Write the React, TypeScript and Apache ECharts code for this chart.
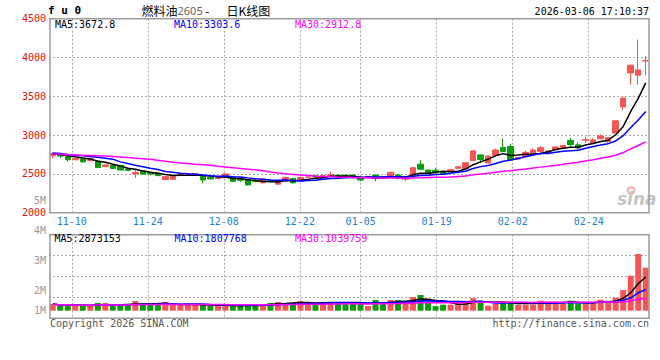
import React, { useEffect, useRef } from "react";
import * as echarts from "echarts";

// ---- data ----
const dates = [
  "11-05","11-06","11-07","11-10","11-11","11-12","11-13","11-14","11-17","11-18",
  "11-19","11-20","11-21","11-24","11-25","11-26","11-27","11-28","12-01","12-02",
  "12-03","12-04","12-05","12-08","12-09","12-10","12-11","12-12","12-15","12-16",
  "12-17","12-18","12-19","12-22","12-23","12-24","12-25","12-26","12-29","12-30",
  "12-31","01-05","01-06","01-07","01-08","01-09","01-12","01-13","01-14","01-15",
  "01-16","01-19","01-20","01-21","01-22","01-23","01-26","01-27","01-28","01-29",
  "01-30","02-02","02-03","02-04","02-05","02-06","02-09","02-10","02-11","02-12",
  "02-13","02-24","02-25","02-26","02-27","03-02","03-03","03-04","03-05","03-06",
];
const tickLabels = ["11-10", "11-24", "12-08", "12-22", "01-05", "01-19", "02-02", "02-24"];
const priceTicks = { min: 2000, max: 4500, step: 500 };

const opens = [
  2735,2752,2722,2682,2692,2672,2665,2595,2608,2610,
  2562,2500,2540,2512,2510,2428,2430,2488,2490,2488,
  2465,2452,2438,2455,2460,2430,2425,2420,2385,2414,
  2368,2410,2440,2405,2452,2475,2455,2478,2485,2483,
  2485,2458,2450,2485,2466,2465,2487,2432,2474,2625,
  2550,2548,2530,2540,2572,2568,2672,2745,2640,2738,
  2840,2853,2692,2725,2760,2790,2770,2812,2840,2930,
  2875,2935,2898,2952,2918,3026,3362,3801,3770,3955,
];
const closes = [
  2765,2730,2682,2700,2655,2700,2582,2615,2570,2550,
  2545,2520,2497,2498,2478,2465,2465,2500,2500,2502,
  2422,2435,2448,2500,2405,2418,2358,2400,2432,2398,
  2392,2455,2385,2455,2460,2462,2482,2490,2462,2462,
  2455,2420,2468,2440,2452,2520,2442,2445,2580,2560,
  2505,2515,2505,2555,2592,2645,2797,2684,2730,2808,
  2788,2680,2712,2778,2808,2838,2795,2848,2865,2878,
  2835,2942,2938,2990,2968,3185,3478,3900,3840,3961,
];
const lows = [
  2700,2703,2660,2675,2645,2665,2572,2590,2565,2545,
  2538,2445,2490,2480,2472,2418,2425,2480,2478,2480,
  2380,2425,2432,2450,2392,2395,2350,2395,2375,2385,
  2360,2405,2375,2398,2445,2455,2450,2472,2458,2455,
  2440,2405,2445,2405,2448,2460,2430,2405,2468,2550,
  2500,2508,2500,2530,2565,2562,2668,2640,2635,2732,
  2780,2672,2685,2718,2745,2750,2760,2805,2835,2840,
  2810,2900,2890,2945,2895,3020,3318,3650,3650,3770,
];
const highs = [
  2775,2758,2728,2705,2700,2705,2670,2622,2615,2615,
  2568,2550,2548,2520,2515,2470,2470,2510,2512,2510,
  2470,2458,2452,2505,2468,2445,2430,2432,2440,2422,
  2398,2465,2445,2462,2468,2480,2488,2530,2490,2490,
  2490,2465,2475,2490,2472,2525,2492,2455,2590,2680,
  2555,2575,2540,2565,2600,2650,2805,2750,2740,2825,
  2955,2890,2718,2800,2830,2860,2810,2855,2875,2965,
  2905,2980,2960,3010,2975,3190,3485,3912,4231,4020,
];
const volumes = [
  571000,401000,571000,401000,401000,401000,656000,656000,401000,401000,
  571000,827000,656000,486000,486000,742000,486000,486000,486000,486000,
  571000,401000,401000,486000,401000,401000,571000,401000,571000,656000,
  742000,656000,656000,827000,656000,486000,742000,742000,742000,656000,
  656000,656000,401000,912000,656000,912000,912000,656000,1168000,1338000,
  767000,384000,512000,512000,597000,810000,1066000,853000,426000,597000,
  767000,767000,512000,512000,512000,853000,768000,768000,597000,853000,
  639000,639000,639000,938000,853000,1108000,1765000,2984000,4834000,3666000,
];
// moving-average values at the left edge (their windows start before the chart)
const ma5Head = [2760, 2750, 2735, 2720];
const ma10Head = [2768, 2762, 2750, 2742, 2735, 2725, 2715, 2703, 2690];
const ma30Head = [
  2757,2752,2748,2744,2741,2738,2735,2732,2725,2718,
  2710,2703,2696,2688,2675,2662,2650,2642,2635,2625,
  2618,2610,2600,2590,2580,2570,2560,2552,2540,
];
const volTickLabels = ["5M", "4M", "3M", "2M", "1M"];

// ---- helpers ----
function movingAvg(src: number[], n: number, head: number[] = []) {
  return src.map((_, i) => {
    if (i < head.length) return head[i];
    const from = Math.max(0, i - n + 1);
    let s = 0;
    for (let k = from; k <= i; k++) s += src[k];
    return +(s / (i - from + 1)).toFixed(1);
  });
}

const RED = "#f45656";
const GREEN = "#0c9c0c";
const MONO = '"DejaVu Sans Mono", monospace';
const GRIDLINE = { color: "#aaaaaa", width: 1, type: [2, 2] as number[] };

export default function App() {
  const ref = useRef<HTMLDivElement>(null);

  useEffect(() => {
    if (!ref.current) return;
    const chart = echarts.init(ref.current, null, { renderer: "svg" });

    const labelIdx = tickLabels.map((l) => dates.indexOf(l));
    const showAt = (idx: number) => labelIdx.indexOf(idx) >= 0;

    const ma5 = movingAvg(closes, 5, ma5Head);
    const ma10 = movingAvg(closes, 10, ma10Head);
    const ma30 = movingAvg(closes, 30, ma30Head);
    const vma5 = movingAvg(volumes, 5);
    const vma10 = movingAvg(volumes, 10);
    const vma30 = movingAvg(volumes, 30);

    const candles = opens.map((o, i) => [o, closes[i], lows[i], highs[i]]);
    const volBars = volumes.map((v, i) => ({
      value: v,
      itemStyle: { color: closes[i] >= opens[i] ? RED : GREEN },
    }));

    const txt = (
      text: string, x: number, y: number, fill: string,
      opts: { size?: number; align?: string; weight?: string; family?: string } = {}
    ) => ({
      type: "text", x, y, silent: true, z: 20,
      style: {
        text, fill,
        font: `${opts.weight || "normal"} ${opts.size || 10}px ${opts.family || MONO}`,
        textAlign: opts.align || "left",
        textVerticalAlign: "middle",
      },
    });

    const volLabelY = [200, 230.7, 260.7, 290.3, 310];

    const lineSeries = (name: string, data: number[], color: string, xi: number, yi: number) => ({
      name, type: "line", data, xAxisIndex: xi, yAxisIndex: yi,
      symbol: "none", silent: true,
      lineStyle: { color, width: 1.5 },
      z: 3,
    });

    chart.setOption({
      animation: false,
      backgroundColor: "#ffffff",
      grid: [
        { left: 49, right: 10.5, top: 18.7, height: 194 },
        { left: 49, right: 10.5, top: 234.7, height: 83.6 },
      ],
      xAxis: [
        { type: "category", gridIndex: 0, data: dates, boundaryGap: true, show: false, position: "top" },
        {
          type: "category", gridIndex: 0, data: dates, boundaryGap: false, position: "bottom",
          axisLine: { show: false }, axisTick: { show: false, interval: showAt },
          axisLabel: { interval: showAt, color: "#1c82d4", fontSize: 10, fontFamily: MONO, margin: 4 },
          splitLine: { show: true, interval: showAt, lineStyle: GRIDLINE },
        },
        { type: "category", gridIndex: 1, data: dates, boundaryGap: true, show: false, position: "top" },
        {
          type: "category", gridIndex: 1, data: dates, boundaryGap: false, position: "bottom",
          axisLine: { show: false }, axisTick: { show: false, interval: showAt },
          axisLabel: { show: false, interval: showAt },
          splitLine: { show: true, interval: showAt, lineStyle: GRIDLINE },
        },
      ],
      yAxis: [
        {
          type: "value", gridIndex: 0, min: priceTicks.min, max: priceTicks.max, interval: priceTicks.step,
          axisLine: { show: false }, axisTick: { show: false },
          axisLabel: {
            color: "#e01010", fontSize: 10, fontFamily: MONO, margin: 3, padding: [0, 0, 4, 0],
            formatter: (v: number) => String(v),
          },
          splitLine: { show: true, lineStyle: GRIDLINE },
        },
        { type: "value", gridIndex: 1, min: -648000, max: 6479000, show: false },
        {
          type: "value", gridIndex: 1, min: 0, max: 4, interval: 1, position: "right",
          axisLine: { show: false }, axisTick: { show: false }, axisLabel: { show: false },
          splitLine: { show: true, lineStyle: GRIDLINE },
        },
      ],
      series: [
        {
          name: "K", type: "candlestick", data: candles, xAxisIndex: 0, yAxisIndex: 0,
          barWidth: 6, silent: true,
          itemStyle: { color: RED, color0: GREEN, borderColor: RED, borderColor0: GREEN, borderWidth: 1 },
        },
        lineSeries("MA5", ma5, "#000000", 0, 0),
        lineSeries("MA10", ma10, "#0000ff", 0, 0),
        lineSeries("MA30", ma30, "#ff00ff", 0, 0),
        {
          name: "VOL", type: "bar", data: volBars, xAxisIndex: 2, yAxisIndex: 1,
          barWidth: 6, silent: true,
        },
        lineSeries("VMA5", vma5, "#000000", 2, 1),
        lineSeries("VMA10", vma10, "#0000ff", 2, 1),
        lineSeries("VMA30", vma30, "#ff00ff", 2, 1),
      ],
      graphic: [
        // sina watermark
        {
          type: "ring", silent: true, z: 1,
          shape: { cx: 631, cy: 190.5, r: 4.5, r0: 2 },
          style: { fill: "#f3b9b9" },
        },
        {
          type: "text", x: 617, y: 198.5, silent: true, z: 1,
          style: {
            text: "sina", fill: "#c6c6c6",
            font: 'italic bold 17px "DejaVu Sans", sans-serif',
            textVerticalAlign: "middle",
          },
        },
        // pane borders
        {
          type: "rect", silent: true, z: 15,
          shape: { x: 50, y: 18.7, width: 599, height: 194 },
          style: { fill: "none", stroke: "#9c9c9c", lineWidth: 1.5 },
        },
        {
          type: "rect", silent: true, z: 15,
          shape: { x: 50, y: 234.7, width: 599, height: 83.6 },
          style: { fill: "none", stroke: "#9c9c9c", lineWidth: 1.5 },
        },
        // header
        txt("f u 0", 48, 10.8, "#000000", { size: 11, weight: "bold" }),
        {
          type: "text", x: 141.5, y: 10.8, silent: true, z: 20,
          style: {
            text: "{a|燃料油}{b|2605}{a| -}",
            textVerticalAlign: "middle",
            rich: {
              a: { fontSize: 12, fontFamily: '"Noto Sans CJK SC", sans-serif', fill: "#000000" },
              b: { fontSize: 11, fontFamily: '"Noto Sans", sans-serif', fill: "#666666" },
            },
          },
        },
        txt("日K线图", 226.5, 10.8, "#000000", { size: 12, family: '"Noto Sans CJK SC", sans-serif' }),
        txt("2026-03-06 17:10:37", 649, 11.7, "#000000", { align: "right" }),
        // MA legends
        txt("MA5:3672.8", 55, 24, "#000000"),
        txt("MA10:3303.6", 174, 24, "#0000ff"),
        txt("MA30:2912.8", 295, 24, "#ff00ff"),
        txt("MA5:2873153", 54.5, 238.3, "#000000"),
        txt("MA10:1807768", 174.5, 238.3, "#0000ff"),
        txt("MA30:1039759", 295, 238.3, "#ff00ff"),
        // volume scale labels
        ...volTickLabels.map((l, i) => txt(l, 46, volLabelY[i], "#9a9a9a", { align: "right" })),
        // footer
        txt("Copyright 2026 SINA.COM", 50, 323.5, "#555555"),
        txt("http://finance.sina.com.cn", 649, 323.5, "#555555", { align: "right" }),
      ],
    });

    return () => chart.dispose();
  }, []);

  return (
    <div
      ref={ref}
      style={{ position: "absolute", left: 0, top: 0, width: 660, height: 360 }}
    />
  );
}
